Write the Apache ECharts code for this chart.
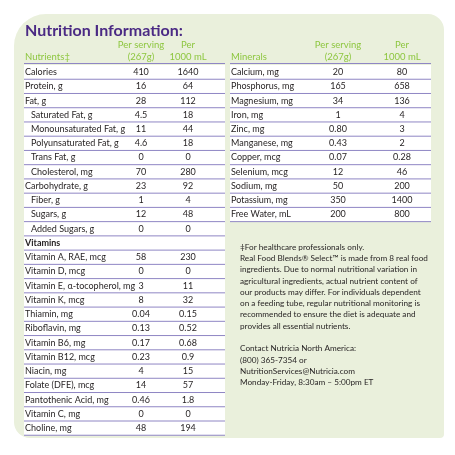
<!DOCTYPE html>
<html><head><meta charset="utf-8">
<script src="https://cdn.jsdelivr.net/npm/echarts@6/dist/echarts.min.js"></script>
<style>html,body{margin:0;background:#fff}#c{width:455px;height:455px}</style>
</head><body><div id="c"></div>
<script>
const leftNutrients = ["Calories","Protein, g","Fat, g","Saturated Fat, g","Monounsaturated Fat, g","Polyunsaturated Fat, g","Trans Fat, g","Cholesterol, mg","Carbohydrate, g","Fiber, g","Sugars, g","Added Sugars, g","Vitamins","Vitamin A, RAE, mcg","Vitamin D, mcg","Vitamin E, α-tocopherol, mg","Vitamin K, mcg","Thiamin, mg","Riboflavin, mg","Vitamin B6, mg","Vitamin B12, mcg","Niacin, mg","Folate (DFE), mcg","Pantothenic Acid, mg","Vitamin C, mg","Choline, mg"];
const leftIndent = [0,0,0,1,1,1,1,1,0,1,1,1,0,0,0,0,0,0,0,0,0,0,0,0,0,0];
const leftPerServing = ["410","16","28","4.5","11","4.6","0","70","23","1","12","0","","58","0","3","8","0.04","0.13","0.17","0.23","4","14","0.46","0","48"];
const leftPer1000 = ["1640","64","112","18","44","18","0","280","92","4","48","0","","230","0","11","32","0.15","0.52","0.68","0.9","15","57","1.8","0","194"];
const minerals = ["Calcium, mg","Phosphorus, mg","Magnesium, mg","Iron, mg","Zinc, mg","Manganese, mg","Copper, mcg","Selenium, mcg","Sodium, mg","Potassium, mg","Free Water, mL"];
const minPerServing = ["20","165","34","1","0.80","0.43","0.07","12","50","350","200"];
const minPer1000 = ["80","658","136","4","3","2","0.28","46","200","1400","800"];
const footnote = ["‡For healthcare professionals only.","Real Food Blends® Select™ is made from 8 real food","ingredients. Due to normal nutritional variation in","agricultural ingredients, actual nutrient content of","our products may differ. For individuals dependent","on a feeding tube, regular nutritional monitoring is","recommended to ensure the diet is adequate and","provides all essential nutrients.","","Contact Nutricia North America:","(800) 365-7354 or","NutritionServices@Nutricia.com","Monday-Friday, 8:30am – 5:00pm ET"];

const F = "Lato, 'Liberation Sans Narrow', sans-serif";
const purple = "#4b2a84", green = "#8dc63f", line = "#8f86c4", txt = "#231f20";
const top0 = 65, rh = 14.24;
const g = [];
g.push({type:'rect',shape:{x:14,y:14,width:430,height:424,r:[32,16,4,16]},style:{fill:'#eaf0dc'}});
g.push({type:'text',x:25,y:31,style:{text:'Nutrition Information:',font:"bold 16px "+F,fill:purple,textVerticalAlign:'middle'}});
function header(x0, label, c1, c2, w){
  g.push({type:'text',x:x0,y:57,style:{text:label,font:"9.5px "+F,fill:green,textVerticalAlign:'middle'}});
  [["Per serving","(267g)",c1],["Per","1000 mL",c2]].forEach(h=>{
    g.push({type:'text',x:h[2],y:45,style:{text:h[0],font:"9.5px "+F,fill:green,textAlign:'center',textVerticalAlign:'middle'}});
    g.push({type:'text',x:h[2],y:57,style:{text:h[1],font:"9.5px "+F,fill:green,textAlign:'center',textVerticalAlign:'middle'}});
  });
  g.push({type:'line',shape:{x1:x0-1,y1:top0-1.5,x2:x0-1+w,y2:top0-1.5},style:{stroke:line,lineWidth:1}});
}
function table(x0,w,names,ind,a,b,c1,c2){
  g.push({type:'rect',shape:{x:x0-1,y:top0,width:w,height:names.length*rh},style:{fill:'#fff'}});
  names.forEach((n,i)=>{
    const yc = top0 + rh*(i+0.5);
    const bold = n==="Vitamins";
    g.push({type:'text',x:x0+(ind[i]?6:0),y:yc,style:{text:n,font:(bold?"bold ":"")+"9px "+F,fill:txt,textVerticalAlign:'middle'}});
    g.push({type:'text',x:c1,y:yc,style:{text:a[i],font:"9px "+F,fill:txt,textAlign:'center',textVerticalAlign:'middle'}});
    g.push({type:'text',x:c2,y:yc,style:{text:b[i],font:"9px "+F,fill:txt,textAlign:'center',textVerticalAlign:'middle'}});
    const yl = top0 + rh*(i+1);
    g.push({type:'line',shape:{x1:x0-1,y1:yl,x2:x0-1+w,y2:yl},style:{stroke:line,lineWidth:1}});
  });
}
table(25,201,leftNutrients,leftIndent,leftPerServing,leftPer1000,141,188);
header(25,'Nutrients‡',141,188,201);
table(231,201,minerals,minerals.map(()=>0),minPerServing,minPer1000,338,402);
header(231,'Minerals',338,402,201);
footnote.forEach((t,i)=>{
  g.push({type:'text',x:240,y:247+i*11.3,style:{text:t,font:"8.2px "+F,fill:txt,textVerticalAlign:'middle'}});
});
const chart = echarts.init(document.getElementById('c'));
chart.setOption({animation:false,graphic:{elements:g}});
</script></body></html>
